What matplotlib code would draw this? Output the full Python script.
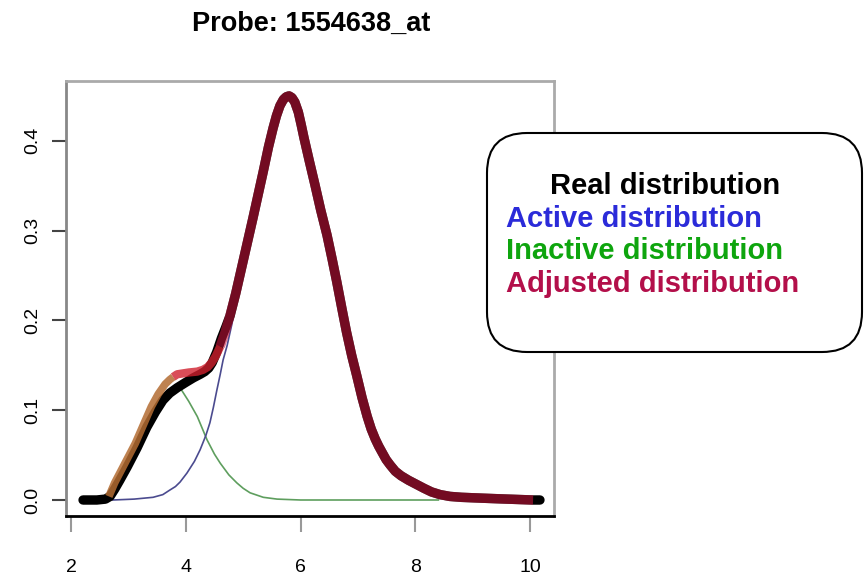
import matplotlib
matplotlib.use("Agg")
import numpy as np
import matplotlib.pyplot as plt
from matplotlib.patches import FancyBboxPatch
from matplotlib.transforms import IdentityTransform

plt.rcParams["font.family"] = ["Liberation Sans", "DejaVu Sans"]

TITLE = "Probe: 1554638_at"

# real (black) density
real_x = [2.21, 2.45, 2.60, 2.68, 2.76, 2.85, 2.98, 3.15, 3.32, 3.47, 3.60,
          3.72, 3.85, 4.00, 4.13, 4.25, 4.33, 4.40, 4.46, 4.54, 4.62, 4.70,
          4.77, 4.87, 4.97, 5.07, 5.17, 5.26, 5.35, 5.44, 5.52, 5.58, 5.64,
          5.70, 5.75, 5.80, 5.85, 5.90, 5.96, 6.01, 6.06, 6.15, 6.25, 6.35,
          6.46, 6.55, 6.63, 6.72, 6.80, 6.89, 6.98, 7.07, 7.16, 7.23, 7.30,
          7.36, 7.42, 7.49, 7.56, 7.65, 7.75, 7.88, 8.03, 8.15, 8.28, 8.43,
          8.60, 8.80, 9.18, 9.60, 10.05, 10.17]
real_y = [0.000, 0.000, 0.001, 0.004, 0.012, 0.022, 0.037, 0.058, 0.081,
          0.098, 0.111, 0.119, 0.125, 0.131, 0.136, 0.140, 0.143, 0.147,
          0.153, 0.165, 0.180, 0.193, 0.205, 0.230, 0.258, 0.286, 0.314,
          0.340, 0.366, 0.393, 0.414, 0.428, 0.439, 0.446, 0.449, 0.450,
          0.448, 0.443, 0.432, 0.418, 0.403, 0.378, 0.351, 0.323, 0.295,
          0.268, 0.243, 0.213, 0.187, 0.161, 0.138, 0.114, 0.093, 0.079,
          0.068, 0.060, 0.053, 0.045, 0.039, 0.032, 0.027, 0.022, 0.017,
          0.013, 0.009, 0.006, 0.004, 0.003, 0.002, 0.001, 0.000, 0.000]

# adjusted (red) density
adj_x = [2.66, 2.76, 2.94, 3.12, 3.27, 3.40, 3.52, 3.64, 3.72, 3.78, 3.85,
         3.95, 4.05, 4.20, 4.30, 4.38, 4.45, 4.52, 4.60, 4.68, 4.76, 4.87,
         4.97, 5.07, 5.17, 5.26, 5.35, 5.44, 5.52, 5.58, 5.64, 5.70, 5.75,
         5.80, 5.85, 5.90, 5.96, 6.01, 6.06, 6.15, 6.25, 6.35, 6.46, 6.55,
         6.63, 6.72, 6.80, 6.89, 6.98, 7.07, 7.16, 7.23, 7.30, 7.36, 7.42,
         7.49, 7.56, 7.65, 7.75, 7.88, 8.03, 8.15, 8.28, 8.43, 8.60, 8.80,
         9.18, 9.60, 10.05]
adj_y = [0.004, 0.019, 0.041, 0.063, 0.085, 0.104, 0.118, 0.129, 0.134,
         0.137, 0.140, 0.141, 0.142, 0.143, 0.145, 0.148, 0.153, 0.160,
         0.171, 0.186, 0.203, 0.230, 0.258, 0.286, 0.314, 0.340, 0.366,
         0.393, 0.414, 0.428, 0.439, 0.446, 0.449, 0.450, 0.448, 0.443,
         0.432, 0.418, 0.403, 0.378, 0.351, 0.323, 0.295, 0.268, 0.243,
         0.213, 0.187, 0.161, 0.138, 0.114, 0.093, 0.079, 0.068, 0.060,
         0.053, 0.045, 0.039, 0.032, 0.027, 0.022, 0.017, 0.013, 0.009,
         0.006, 0.004, 0.003, 0.002, 0.001, 0.000]

# active component (blue)
act_x = [2.73, 3.10, 3.43, 3.60, 3.72, 3.82, 3.90, 4.02, 4.15, 4.25, 4.35,
         4.42, 4.48, 4.54, 4.60, 4.65, 4.72, 4.80, 4.90, 5.17, 5.35, 5.52,
         5.70, 5.80, 5.90, 6.06, 6.46, 6.80, 7.16, 7.56, 8.03, 8.80, 10.05]
act_y = [0.000, 0.001, 0.003, 0.006, 0.011, 0.015, 0.020, 0.030, 0.043,
         0.056, 0.072, 0.086, 0.103, 0.122, 0.140, 0.156, 0.172, 0.195,
         0.228, 0.314, 0.366, 0.414, 0.446, 0.450, 0.443, 0.403, 0.295,
         0.187, 0.093, 0.039, 0.017, 0.003, 0.000]

# inactive component (green)
inact_x = [2.68, 2.85, 3.00, 3.15, 3.32, 3.47, 3.60, 3.72, 3.85, 3.92, 4.05,
           4.20, 4.37, 4.50, 4.60, 4.75, 4.89, 5.00, 5.12, 5.35, 5.59, 6.00,
           8.40]
inact_y = [0.003, 0.022, 0.040, 0.058, 0.081, 0.098, 0.111, 0.119, 0.124,
           0.123, 0.110, 0.093, 0.067, 0.051, 0.041, 0.028, 0.019, 0.013,
           0.008, 0.003, 0.001, 0.000, 0.000]

x_ticks = [2, 4, 6, 8, 10]
y_ticks = [0.0, 0.1, 0.2, 0.3, 0.4]

legend_labels = ["Real distribution", "Active distribution",
                 "Inactive distribution", "Adjusted distribution"]
legend_colors = ["black", "#2b2bd9", "#0ea50e", "#b30f4a"]

W, H = 865, 576
fig = plt.figure(figsize=(W / 100, H / 100), dpi=100)
ax = fig.add_axes([66 / W, 1 - 516 / H, (554 - 66) / W, (516 - 81) / H])

ax.plot(inact_x, inact_y, color="#5e9e5e", lw=1.2, zorder=2)
ax.plot(act_x, act_y, color="#4b4b8f", lw=1.2, zorder=2)
ax.plot(real_x, real_y, color="black", lw=6.8, solid_capstyle="round",
        solid_joinstyle="round", zorder=3)

# adjusted curve: orange on the left rise, red on the shoulder, maroon after
adj_x = np.array(adj_x)
adj_y = np.array(adj_y)
seg_left = adj_x <= 3.78
seg_mid = (adj_x >= 3.78) & (adj_x <= 4.60)
seg_right = adj_x >= 4.60
ax.plot(adj_x[seg_left], adj_y[seg_left], color="#b36c32", lw=5.5,
        alpha=0.85, solid_capstyle="butt", solid_joinstyle="round", zorder=4)
ax.plot(adj_x[seg_mid], adj_y[seg_mid], color="#d0202e", lw=6.0,
        alpha=0.8, solid_capstyle="butt", solid_joinstyle="round", zorder=4)
ax.plot(adj_x[seg_right], adj_y[seg_right], color="#c8143c", lw=6.8,
        alpha=0.58, solid_capstyle="butt", solid_joinstyle="round", zorder=4)

ax.set_xlim(2 + (66 - 71) / 57.4, 2 + (554 - 71) / 57.4)
ax.set_ylim(-(516 - 500) / 898, (500 - 81) / 898)
ax.set_xticks(x_ticks)
ax.set_xticklabels([str(v) for v in x_ticks], fontsize=14)
ax.set_yticks(y_ticks)
ax.set_yticklabels([f"{v:.1f}" for v in y_ticks], fontsize=14,
                   rotation=90, va="center")
ax.tick_params(axis="x", length=11.5, width=1.5, color="#999999", pad=19.5)
ax.tick_params(axis="y", length=10, width=1.5, color="#444444", pad=8)

for side in ["top", "right"]:
    ax.spines[side].set_color("#aaaaaa")
    ax.spines[side].set_linewidth(2)
ax.spines["left"].set_color("#888888")
ax.spines["left"].set_linewidth(2)
ax.spines["bottom"].set_color("black")
ax.spines["bottom"].set_linewidth(2)

fig.text(311 / W, 1 - 31 / H, TITLE, ha="center", va="baseline",
         fontsize=19.5, fontweight="bold")

# legend box drawn in pixel space
box = FancyBboxPatch((487, H - 352), 375, 219,
                     boxstyle="round,pad=0,rounding_size=40",
                     transform=IdentityTransform(), facecolor="white",
                     edgecolor="black", lw=1.5, zorder=10)
fig.add_artist(box)

text_x = [550, 506, 506, 506]
text_base = [194, 227, 259, 292]
for lab, col, tx, ty in zip(legend_labels, legend_colors, text_x, text_base):
    fig.text(tx / W, 1 - ty / H, lab, color=col, fontsize=21,
             fontweight="bold", ha="left", va="baseline", zorder=11)

fig.savefig("out.png", dpi=100)
